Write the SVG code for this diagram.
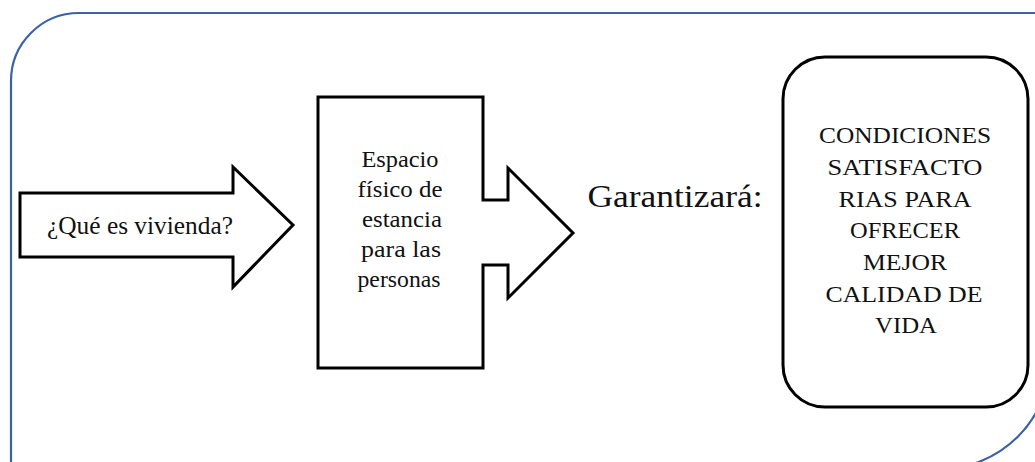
<svg xmlns="http://www.w3.org/2000/svg" width="1035" height="462" viewBox="0 0 1035 462">
<style>
.frame{fill:none;stroke:#3b62a3;stroke-width:2.2}
.shape{fill:#fff;stroke:#000;stroke-width:3;stroke-linejoin:miter}
.t{font-family:"Liberation Serif","Times New Roman",serif;fill:#111;text-anchor:middle}
.s22{font-size:22.5px}
.s23{font-size:23.5px}
</style>
<path class="frame" d="M11 470 V81 A68 68 0 0 1 79 13 H1050 V359 A110 110 0 0 1 940 469 H11"/>
<g id="connectors"></g>
<g id="node-vivienda">
<path class="shape" d="M20 193 H233 V167 L293 225 L233 287 V257 H20 Z"/>
<text class="t" x="140" y="234" font-size="25" textLength="186" lengthAdjust="spacingAndGlyphs">¿Qué es vivienda?</text>
</g>
<g id="node-espacio">
<path class="shape" d="M318 97 H483 V200 H508 V168 L573 233 L508 298 V265 H483 V368 H318 Z"/>
<text class="t s22" x="400" y="167" textLength="77" lengthAdjust="spacingAndGlyphs">Espacio</text>
<text class="t s22" x="400" y="197" textLength="85" lengthAdjust="spacingAndGlyphs">físico de</text>
<text class="t s22" x="402" y="227" textLength="80" lengthAdjust="spacingAndGlyphs">estancia</text>
<text class="t s22" x="401" y="257" textLength="80" lengthAdjust="spacingAndGlyphs">para las</text>
<text class="t s22" x="399" y="287" textLength="83" lengthAdjust="spacingAndGlyphs">personas</text>
</g>
<g id="node-garantizara">
<text class="t" x="675" y="207" font-size="31" textLength="175" lengthAdjust="spacingAndGlyphs">Garantizará:</text>
</g>
<g id="node-condiciones">
<rect class="shape" x="783" y="57" width="245" height="350" rx="42" ry="42"/>
<text class="t s23" x="905" y="143" textLength="172" lengthAdjust="spacingAndGlyphs">CONDICIONES</text>
<text class="t s23" x="905" y="175" textLength="155" lengthAdjust="spacingAndGlyphs">SATISFACTO</text>
<text class="t s23" x="905" y="207" textLength="133" lengthAdjust="spacingAndGlyphs">RIAS PARA</text>
<text class="t s23" x="905" y="238" textLength="110" lengthAdjust="spacingAndGlyphs">OFRECER</text>
<text class="t s23" x="905" y="270" textLength="84" lengthAdjust="spacingAndGlyphs">MEJOR</text>
<text class="t s23" x="904" y="302" textLength="157" lengthAdjust="spacingAndGlyphs">CALIDAD DE</text>
<text class="t s23" x="906" y="333" textLength="62" lengthAdjust="spacingAndGlyphs">VIDA</text>
</g>
</svg>
